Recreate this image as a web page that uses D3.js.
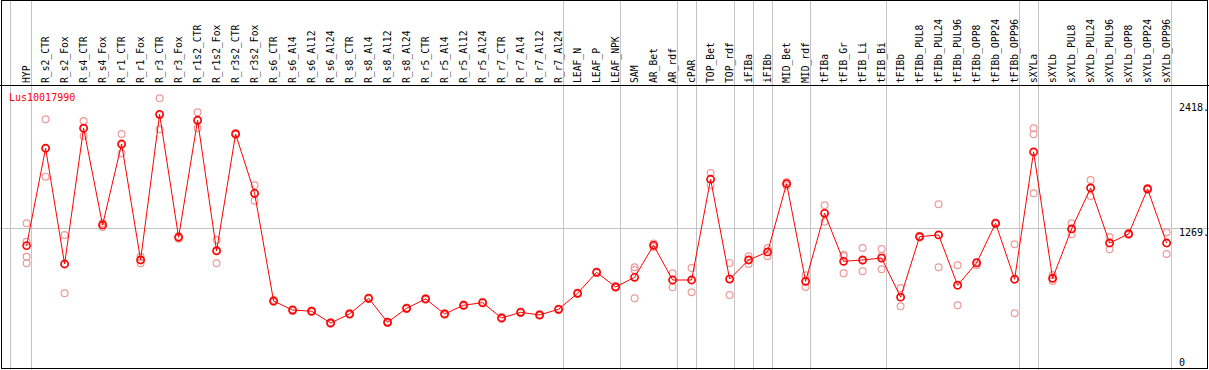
<!DOCTYPE html>
<html><head><meta charset="utf-8">
<script src="https://cdn.jsdelivr.net/npm/d3@7/dist/d3.min.js"></script>
<style>
body{margin:0;background:#fff;overflow:hidden}
svg{display:block}
text{font-family:"DejaVu Sans Mono","Liberation Mono",monospace}
</style>
</head><body><svg id="c" width="1209" height="370"></svg>
<script>
const geneName = "Lus10017990";
const categories = ["HYP","R_s2_CTR","R_s2_Fox","R_s4_CTR","R_s4_Fox","R_r1_CTR","R_r1_Fox","R_r3_CTR","R_r3_Fox","R_r1s2_CTR","R_r1s2_Fox","R_r3s2_CTR","R_r3s2_Fox","R_s6_CTR","R_s6_Al4","R_s6_Al12","R_s6_Al24","R_s8_CTR","R_s8_Al4","R_s8_Al12","R_s8_Al24","R_r5_CTR","R_r5_Al4","R_r5_Al12","R_r5_Al24","R_r7_CTR","R_r7_Al4","R_r7_Al12","R_r7_Al24","LEAF_N","LEAF_P","LEAF_NPK","SAM","AR_Bet","AR_rdf","cPAR","TOP_Bet","TOP_rdf","iFIBa","iFIBb","MID_Bet","MID_rdf","tFIBa","tFIB_Gr","tFIB_Li","tFIB_Bi","tFIBb","tFIBb_PUL8","tFIBb_PUL24","tFIBb_PUL96","tFIBb_OPP8","tFIBb_OPP24","tFIBb_OPP96","sXYLa","sXYLb","sXYLb_PUL8","sXYLb_PUL24","sXYLb_PUL96","sXYLb_OPP8","sXYLb_OPP24","sXYLb_OPP96"];
const means = [1110,2005,941,2189,1300,2044,978,2317,1187,2262,1061,2136,1591,601,518,507,399,482,626,405,534,620,482,562,586,445,497,473,525,672,865,730,819,1113,794,794,1720,803,978,1052,1679,782,1407,966,978,996,636,1192,1208,746,951,1315,801,1971,810,1263,1640,1134,1217,1631,1134];
const replicates = [
 [1315,1146,1008,948],[2271,2005,1744],[1208,941,672],[2256,2189,2118],[1318,1300,1281],
 [2136,2038,1959],[1008,978,948],[2464,2311,2179],[1199,1187,1174],[2336,2262,2189],
 [1162,1070,948],[2143,2136,2130],[1665,1591,1523],[610,601,592],[526,518,510],
 [514,507,500],[406,399,392],[489,482,475],[633,626,619],[412,405,398],
 [541,534,527],[627,620,613],[489,482,475],[569,562,555],[593,586,579],
 [452,445,438],[504,497,490],[480,473,466],[532,525,518],[679,672,665],
 [872,865,858],[737,730,723],[911,886,626],[1130,1113,1098],[856,794,727],
 [905,794,681],[1778,1720,1667],[951,803,656],[1012,978,941],[1088,1052,1012],
 [1695,1679,1661],[837,782,730],[1481,1407,1330],[1027,1015,856],[1088,972,874],
 [1079,1015,893],[721,638,552],[1200,1192,1185],[1490,1208,911],[929,746,562],
 [962,951,929],[1322,1315,1309],[1122,801,488],[2189,2134,1591],[840,810,785],
 [1315,1263,1214],[1713,1640,1566],[1187,1134,1076],[1225,1217,1209],[1640,1631,1622],
 [1233,1134,1033]
];
const yTickValues = [0,1269,2418];
const yTickLabels = ["0","1269.","2418."];
const yGridValues = [1269];
const separatorsAfter = ["HYP","R_r7_Al24","LEAF_NPK","AR_rdf","cPAR","TOP_rdf","iFIBa","iFIBb","MID_rdf","tFIB_Bi","tFIBb_OPP96","sXYLa","sXYLb_OPP96"];

const W = 1209, H = 370;
const svg = d3.select("#c");
const x = d3.scalePoint().domain(categories).range([26.6, 1166.6]);
const y = d3.scaleLinear().domain([0, 2418]).range([366.4, 103.3]);
const grid = "#c4c4c4";

// vertical separators
const sepX = [x(categories[0]) - 16.5].concat(separatorsAfter.map(c => x(c) + 4));
svg.append("g").selectAll("line").data(sepX).join("line")
  .attr("x1", d => Math.round(d) + 0.5).attr("x2", d => Math.round(d) + 0.5)
  .attr("y1", 0).attr("y2", H)
  .attr("stroke", grid).attr("stroke-width", 1);

// horizontal grid
svg.append("g").selectAll("line").data(yGridValues).join("line")
  .attr("x1", 0).attr("x2", W)
  .attr("y1", d => Math.round(y(d)) + 0.5).attr("y2", d => Math.round(y(d)) + 0.5)
  .attr("stroke", grid).attr("stroke-width", 1);

// frame
svg.append("rect").attr("x", 1.5).attr("y", 0.5).attr("width", 1206).attr("height", 368)
  .attr("fill", "none").attr("stroke", "#000").attr("stroke-width", 1);
svg.append("line").attr("x1", 0).attr("x2", W).attr("y1", 85.5).attr("y2", 85.5)
  .attr("stroke", "#000").attr("stroke-width", 1);

// header labels
svg.append("g").selectAll("text").data(categories).join("text")
  .attr("transform", d => `translate(${x(d) + 3.2},83) rotate(-90)`)
  .attr("font-size", "9.7px").attr("fill", "#000")
  .text(d => d);

// right axis labels
svg.append("g").selectAll("text").data(yTickValues).join("text")
  .attr("x", 1179)
  .attr("y", d => Math.min(y(d) + 8, 366))
  .attr("font-size", "10px").attr("fill", "#000")
  .text((d, i) => yTickLabels[i]);

// title
svg.append("text").attr("x", 9).attr("y", 100.7)
  .attr("font-size", "10px").attr("fill", "#ff0000").text(geneName);

// replicates
const repData = [];
replicates.forEach((arr, i) => arr.forEach(v => repData.push({c: categories[i], v})));
svg.append("g").selectAll("circle").data(repData).join("circle")
  .attr("cx", d => x(d.c)).attr("cy", d => y(d.v)).attr("r", 3.4)
  .attr("fill", "none").attr("stroke", "#ee9a9a").attr("stroke-width", 1.2);

// mean line
const line = d3.line().x((d, i) => x(categories[i])).y(d => y(d));
svg.append("path").datum(means).attr("d", line)
  .attr("fill", "none").attr("stroke", "#ff0000").attr("stroke-width", 1);

// mean markers
svg.append("g").selectAll("circle").data(means).join("circle")
  .attr("cx", (d, i) => x(categories[i])).attr("cy", d => y(d)).attr("r", 3.6)
  .attr("fill", "none").attr("stroke", "#ff0000").attr("stroke-width", 1.6);
</script>
</body></html>
